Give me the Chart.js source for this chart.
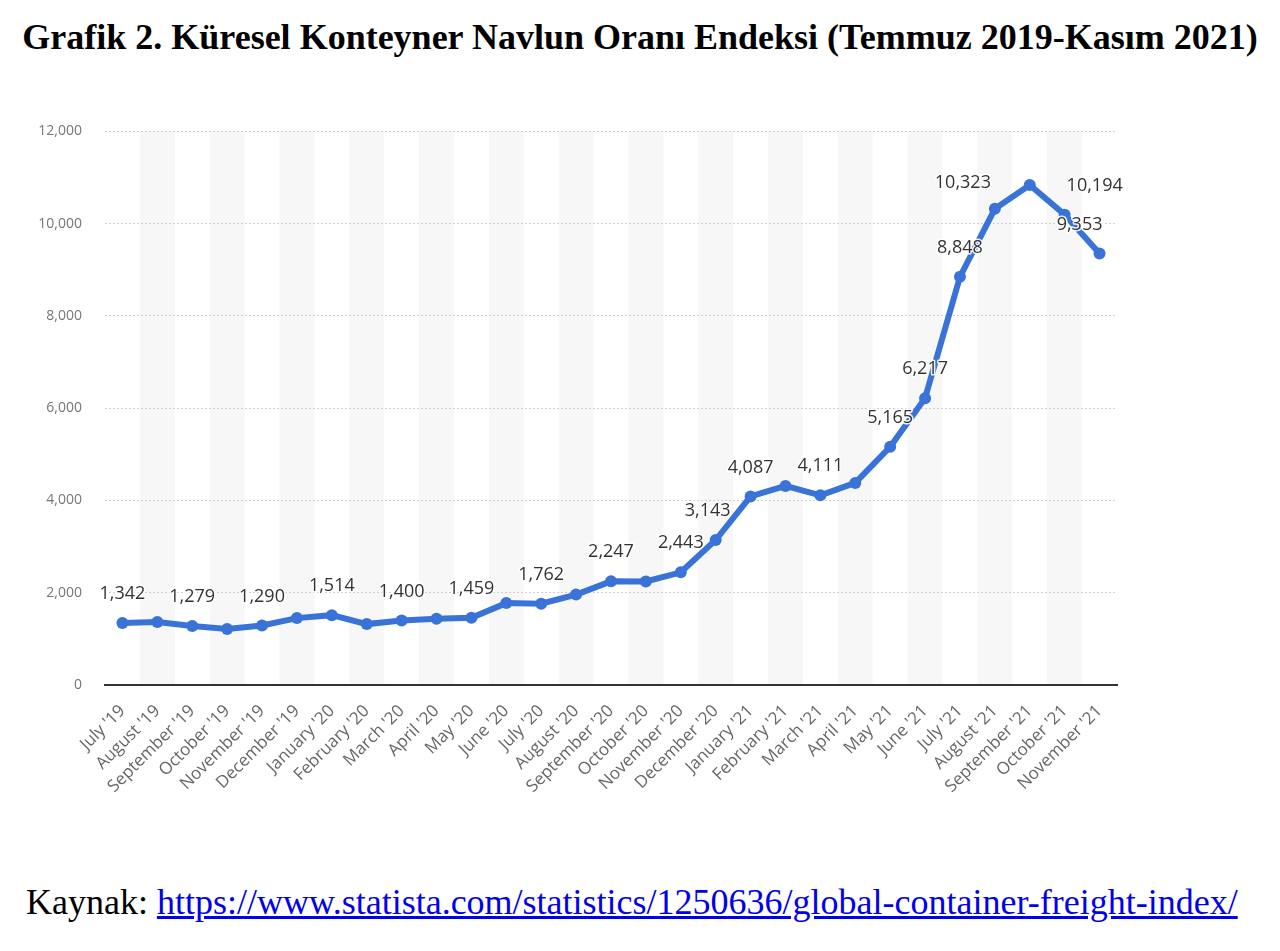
<!DOCTYPE html>
<html>
<head>
<meta charset="utf-8">
<script src="https://cdn.jsdelivr.net/npm/chart.js@4"></script>
<style>
  body { margin: 0; background: #fff; width: 1280px; height: 951px; position: relative; overflow: hidden; }
  #title { position: absolute; top: 16px; left: 0; width: 1280px; text-align: center;
           font-family: "Liberation Serif", "Times New Roman", serif; font-weight: bold; font-size: 36px; color: #000; }
  #wrap { position: absolute; left: 0; top: 100px; width: 1280px; height: 740px; }
  #source { position: absolute; left: 26px; top: 881px; font-family: "Liberation Serif", "Times New Roman", serif;
            font-size: 36px; color: #000; }
  #source a { color: #0000ee; text-decoration: underline; }
</style>
</head>
<body>
<div id="title">Grafik 2. Küresel Konteyner Navlun Oranı Endeksi (Temmuz 2019-Kasım 2021)</div>
<div id="wrap"><canvas id="chart"></canvas></div>
<div id="source">Kaynak: <a href="#">https://www.statista.com/statistics/1250636/global-container-freight-index/</a></div>
<script>
const months = ["July '19", "August '19", "September '19", "October '19", "November '19", "December '19",
  "January '20", "February '20", "March '20", "April '20", "May '20", "June '20", "July '20", "August '20",
  "September '20", "October '20", "November '20", "December '20", "January '21", "February '21", "March '21",
  "April '21", "May '21", "June '21", "July '21", "August '21", "September '21", "October '21", "November '21"];
const freightIndex = [1342, 1365, 1279, 1215, 1290, 1450, 1514, 1320, 1400, 1435, 1459, 1775, 1762, 1960,
  2247, 2245, 2443, 3143, 4087, 4315, 4111, 4380, 5165, 6217, 8848, 10323, 10840, 10194, 9353];
// points that carry a value label in the original
const labelled = [0, 2, 4, 6, 8, 10, 12, 14, 16, 17, 18, 20, 22, 23, 24, 25, 27, 28];
const yTicks = [0, 2000, 4000, 6000, 8000, 10000, 12000];

const stripes = {
  id: 'stripes',
  beforeDraw(c) {
    const { ctx, chartArea, scales } = c;
    const w = (chartArea.right - chartArea.left) / months.length;
    ctx.save();
    ctx.fillStyle = '#f7f7f7';
    months.forEach((m, i) => {
      if (i % 2 === 1) {
        const x = scales.x.getPixelForValue(i);
        ctx.fillRect(x - w / 2, chartArea.top, w, chartArea.bottom - chartArea.top);
      }
    });
    ctx.restore();
  }
};

const valueLabels = {
  id: 'valueLabels',
  afterDatasetsDraw(c, args, opts) {
    const { ctx } = c;
    const meta = c.getDatasetMeta(0);
    ctx.save();
    ctx.font = '18px "Open Sans", sans-serif';
    ctx.textAlign = 'center';
    ctx.textBaseline = 'bottom';
    ctx.lineJoin = 'round';
    labelled.forEach(i => {
      const p = meta.data[i];
      const s = opts.shift[i] || [0, 0];
      const txt = freightIndex[i].toLocaleString('en-US');
      const x = p.x + s[0], y = p.y - 20 + s[1];
      ctx.strokeStyle = 'rgba(255,255,255,0.9)';
      ctx.lineWidth = 3;
      ctx.strokeText(txt, x, y);
      ctx.fillStyle = '#333';
      ctx.fillText(txt, x, y);
    });
    ctx.restore();
  }
};

new Chart(document.getElementById('chart'), {
  type: 'line',
  data: {
    labels: months,
    datasets: [{
      data: freightIndex,
      borderColor: '#3a73d7',
      backgroundColor: '#3a73d7',
      borderWidth: 6,
      pointRadius: 6,
      pointBackgroundColor: '#3a73d7',
      pointBorderWidth: 0,
      tension: 0
    }]
  },
  plugins: [stripes, valueLabels],
  options: {
    responsive: true,
    maintainAspectRatio: false,
    animation: false,
    layout: { padding: { top: 22, right: 163, left: 0, bottom: 0 } },
    plugins: {
      legend: { display: false },
      tooltip: { enabled: false },
      valueLabels: { shift: { 17: [-8, 0], 25: [-32, 3], 27: [30, 0], 28: [-20, 0] } }
    },
    scales: {
      x: {
        offset: true,
        grid: { display: false },
        border: { display: true, color: '#333', width: 2 },
        ticks: { color: '#666', font: { family: 'Open Sans', size: 17 }, minRotation: 45, maxRotation: 45, padding: 8, autoSkip: false },
        afterFit(s) { s.height = 155; }
      },
      y: {
        min: 0, max: 12000,
        afterBuildTicks(s) { s.ticks = yTicks.map(v => ({ value: v })); },
        grid: { color: '#cfcfcf', drawTicks: false, lineWidth: 1 },
        border: { display: false, dash: [2, 2] },
        ticks: { color: '#777', font: { family: 'Open Sans', size: 14 }, padding: 23,
                 callback: v => v.toLocaleString('en-US') },
        afterFit(s) { s.width = 105; }
      }
    }
  }
});
</script>
</body>
</html>
